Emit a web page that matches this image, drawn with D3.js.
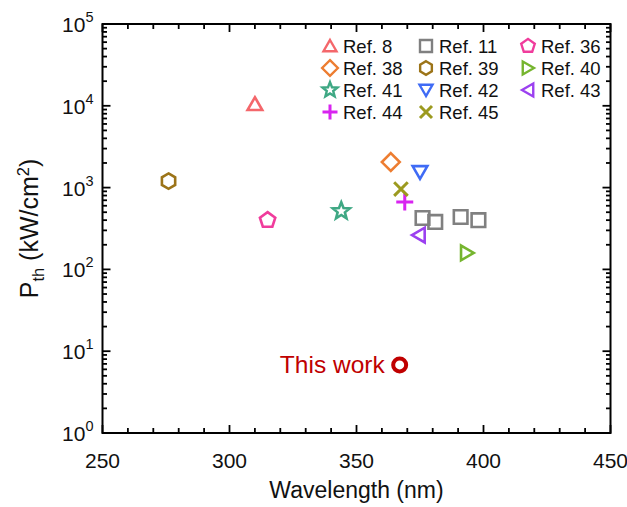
<!DOCTYPE html>
<html><head><meta charset="utf-8">
<script src="https://cdn.jsdelivr.net/npm/d3@7"></script>
<style>body{margin:0;background:#fff}svg{font-family:Arial,"Liberation Sans",sans-serif}</style>
</head><body><svg id="c" width="627" height="507"></svg>
<script>
// ---- data ----
const refNames = ["Ref. 8","Ref. 11","Ref. 36","Ref. 38","Ref. 39","Ref. 40","Ref. 41","Ref. 42","Ref. 43","Ref. 44","Ref. 45"];
const refShapes = ["triangle","square","pentagon","diamond","hexagon","triRight","star","triDown","triLeft","plus","cross"];
const refColors = ["#F4676B","#808080","#F03C9C","#ED7D31","#9C7418","#76B52F","#3FA884","#3F6BF5","#9B40F0","#D824F0","#9C9A1F"];
const refWavelengths = [[310],[376,381,391,398],[315],[363.5],[276],[393.5],[344],[375],[374.5],[369],[367.5]];
const refPth = [[10500],[425,380,437,400],[400],[2050],[1200],[159],[515],[1550],[263],[665],[960]];
const thisWork = {wl: 367, pth: 6.8, label: "This work", color: "#C00000"};
const xTicks = [250,300,350,400,450];
const yTicks = [1,10,100,1000,10000,100000];

const svg = d3.select("#c");
const m = {l:102.5, r:610.5, t:24, b:433};
const x = d3.scaleLinear().domain([250,450]).range([m.l, m.r]);
const y = d3.scaleLog().domain([1,1e5]).range([m.b, m.t]);

function shapePath(t, r){
  const poly = (n, rot, rr) => d3.range(n).map(i => {const a = rot + i*2*Math.PI/n; return [rr*Math.cos(a), rr*Math.sin(a)];});
  const toP = pts => "M" + pts.map(p=>p[0].toFixed(2)+","+p[1].toFixed(2)).join("L") + "Z";
  switch(t){
    case "triangle": return toP(poly(3,-Math.PI/2,r).map(p=>[p[0],p[1]+r*0.2]));
    case "triDown": return toP(poly(3,Math.PI/2,r).map(p=>[p[0],p[1]-r*0.2]));
    case "triRight": return toP(poly(3,0,r).map(p=>[p[0]-r*0.2,p[1]]));
    case "triLeft": return toP(poly(3,Math.PI,r).map(p=>[p[0]+r*0.2,p[1]]));
    case "square": {const s=r*0.8; return `M${-s},${-s}L${s},${-s}L${s},${s}L${-s},${s}Z`;}
    case "diamond": return toP(poly(4,-Math.PI/2,r*1.05));
    case "pentagon": return toP(poly(5,-Math.PI/2,r*0.95));
    case "hexagon": return toP(poly(6,-Math.PI/2,r*0.9));
    case "star": { const pts=[]; for(let i=0;i<10;i++){const a=-Math.PI/2+i*Math.PI/5; const rr=i%2?r*0.45:r*1.05; pts.push([rr*Math.cos(a),rr*Math.sin(a)]);} return toP(pts);}
    case "plus": return `M${-r},0L${r},0M0,${-r}L0,${r}`;
    case "cross": {const s=r*0.8; return `M${-s},${-s}L${s},${s}M${-s},${s}L${s},${-s}`;}
  }
}

// frame
svg.append("rect").attr("x",m.l).attr("y",m.t).attr("width",m.r-m.l).attr("height",m.b-m.t)
  .attr("fill","none").attr("stroke","#000").attr("stroke-width",2);

// x ticks (bottom & top, inward)
const xMinor = d3.range(250,451,10);
const gt = svg.append("g").attr("stroke","#000").attr("stroke-width",1.8);
xMinor.forEach(v=>{
  const L = (v%50===0)?8:5;
  gt.append("line").attr("x1",x(v)).attr("x2",x(v)).attr("y1",m.b).attr("y2",m.b-L);
  gt.append("line").attr("x1",x(v)).attr("x2",x(v)).attr("y1",m.t).attr("y2",m.t+L);
});
// y ticks (log minors)
for(let d=0; d<5; d++){
  for(let k=1;k<=9;k++){
    const v = k*Math.pow(10,d);
    const L = k===1?8:4.5;
    gt.append("line").attr("x1",m.l).attr("x2",m.l+L).attr("y1",y(v)).attr("y2",y(v));
    gt.append("line").attr("x1",m.r).attr("x2",m.r-L).attr("y1",y(v)).attr("y2",y(v));
  }
}

// x tick labels
svg.append("g").selectAll("text").data(xTicks).join("text")
  .attr("x",d=>x(d)).attr("y",m.b+35).attr("text-anchor","middle")
  .attr("font-size",21).attr("fill","#111").text(d=>d);
// y tick labels
const yl = svg.append("g").selectAll("text").data(yTicks).join("text")
  .attr("x",m.l-9).attr("y",d=>y(d)+8).attr("text-anchor","end").attr("font-size",21).attr("fill","#111");
yl.append("tspan").text("10");
yl.append("tspan").attr("dy",-10).attr("font-size",14.5).text(d=>Math.round(Math.log10(d)));

// axis titles
svg.append("text").attr("x",(m.l+m.r)/2).attr("y",498).attr("text-anchor","middle")
  .attr("font-size",23).attr("fill","#111").text("Wavelength (nm)");
const yt = svg.append("text").attr("transform",`translate(38,${(m.t+m.b)/2}) rotate(-90)`)
  .attr("text-anchor","middle").attr("font-size",25).attr("fill","#111");
yt.append("tspan").text("P");
yt.append("tspan").attr("dy",6).attr("font-size",16.5).text("th");
yt.append("tspan").attr("dy",-6).text(" (kW/cm");
yt.append("tspan").attr("dy",-9).attr("font-size",16.5).text("2");
yt.append("tspan").attr("dy",9).text(")");

// data markers
const pts = [];
refNames.forEach((n,i)=>refWavelengths[i].forEach((w,j)=>pts.push({w, p:refPth[i][j], shape:refShapes[i], color:refColors[i]})));
svg.append("g").selectAll("path").data(pts).join("path")
  .attr("transform",d=>`translate(${x(d.w)},${y(d.p)})`)
  .attr("d",d=>shapePath(d.shape,8.5)).attr("fill","none")
  .attr("stroke",d=>d.color).attr("stroke-width",d=>(d.shape==="plus"||d.shape==="cross")?3:2.6)
  .attr("stroke-linejoin","miter");

// this work
svg.append("circle").attr("cx",x(thisWork.wl)).attr("cy",y(thisWork.pth)).attr("r",6.5)
  .attr("fill","none").attr("stroke",thisWork.color).attr("stroke-width",4);
svg.append("text").attr("x",x(thisWork.wl)-15).attr("y",y(thisWork.pth)+8.5).attr("text-anchor","end")
  .attr("font-size",24.5).attr("fill",thisWork.color).text(thisWork.label);

// legend
const colX = [330,426,528], rowY = [46,68,90,112];
const lg = svg.append("g");
refNames.forEach((n,i)=>{
  const c=i%3, r=Math.floor(i/3);
  lg.append("path").attr("transform",`translate(${colX[c]},${rowY[r]})`).attr("d",shapePath(refShapes[i],7.5))
    .attr("fill","none").attr("stroke",refColors[i]).attr("stroke-width",(refShapes[i]==="plus"||refShapes[i]==="cross")?3:2.4);
  lg.append("text").attr("x",colX[c]+13).attr("y",rowY[r]+7).attr("font-size",18.5).attr("fill","#111").text(n);
});
</script></body></html>
